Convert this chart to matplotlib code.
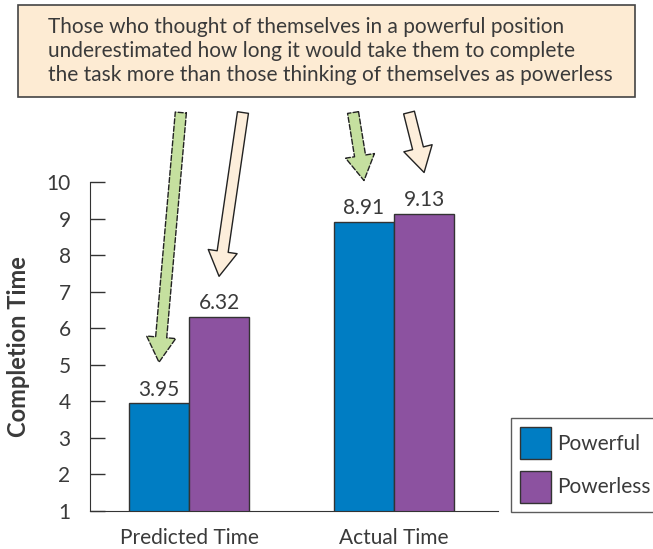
import matplotlib
matplotlib.use("Agg")
import matplotlib.pyplot as plt
from matplotlib.patches import Rectangle, Patch
import numpy as np

plt.rcParams['font.family'] = ['Lato', 'DejaVu Sans']

groups = ['Predicted Time', 'Actual Time']
series = ['Powerful', 'Powerless']
powerful = [3.95, 8.91]
powerless = [6.32, 9.13]
colors = ['#007DC3', '#8C52A0']
yticks = list(range(1, 11))
note = ("Those who thought of themselves in a powerful position\n"
        "underestimated how long it would take them to complete\n"
        "the task more than those thinking of themselves as powerless")

txt = '#3a3a3a'
fig = plt.figure(figsize=(6.53, 5.49), dpi=100)
ax = fig.add_axes([90/653, 38/549, 408/653, 329/549])

x = np.arange(len(groups))
w = 0.293
b1 = ax.bar(x - w/2, powerful, w, color=colors[0], edgecolor='#333333', lw=1, label=series[0])
b2 = ax.bar(x + w/2, powerless, w, color=colors[1], edgecolor='#333333', lw=1, label=series[1])
for bars, vals in [(b1, powerful), (b2, powerless)]:
    for r, v in zip(bars, vals):
        ax.text(r.get_x() + r.get_width()/2, v + 0.1, f'{v:.2f}', ha='center', va='bottom',
                fontsize=15, color=txt)

ax.set_ylim(1, 10)
ax.set_xlim(-0.483, 1.507)
ax.set_yticks(yticks)
ax.set_xticks(x)
ax.set_xticklabels(groups)
ax.tick_params(axis='y', direction='in', length=11, width=1, pad=14, labelsize=15, labelcolor=txt, color='#333333')
ax.tick_params(axis='x', length=0, pad=12, labelsize=15, labelcolor=txt)
for s in ['top', 'right']:
    ax.spines[s].set_visible(False)
for s in ['left', 'bottom']:
    ax.spines[s].set_color('#333333')
ax.set_ylabel('Completion Time', fontsize=17, fontweight='bold', color=txt, labelpad=12)

# arrows: (tail, tip) in data coords, tips just above the bars
arrows = [
    ((-0.04, 11.9), (-w/2, powerful[0] + 1.12), '#C5E09F', '--'),
    ((0.263, 11.9), (w/2, powerless[0] + 1.1), '#FDEEDB', '-'),
    ((0.80, 11.9), (1 - w/2, powerful[1] + 1.13), '#C5E09F', '--'),
    ((1.073, 11.9), (1 + w/2, powerless[1] + 1.13), '#FDEEDB', '-'),
]
for tail, tip, fc, ls in arrows:
    ax.annotate('', xy=tip, xytext=tail, annotation_clip=False,
                arrowprops=dict(arrowstyle='simple,head_length=18,head_width=21,tail_width=8',
                                mutation_scale=1, fc=fc, ec='#222222', lw=1, ls=ls,
                                shrinkA=0, shrinkB=0))

# note box
fig.patches.append(Rectangle((18/653, 1 - 97/549), 617/653, 92/549, transform=fig.transFigure,
                             facecolor='#FDEBD3', edgecolor='#444444', lw=1.2))
fig.text(48/653, 1 - 51/549, note, ha='left', va='center', fontsize=15, color=txt, linespacing=1.25)

handles = [Patch(facecolor=colors[0], edgecolor='#333333'), Patch(facecolor=colors[1], edgecolor='#333333')]
leg = fig.legend(handles, series, loc='upper left', bbox_to_anchor=(511/653, 1 - 418/549),
                 fontsize=15, handlelength=1.5, handleheight=2.0, handletextpad=0.3,
                 borderpad=0.43, labelspacing=0.55, borderaxespad=0, fancybox=False, frameon=True)
leg.get_frame().set_edgecolor('#333333')
leg.get_frame().set_linewidth(1)
for t in leg.get_texts():
    t.set_color(txt)

fig.savefig('out.png', dpi=100)
